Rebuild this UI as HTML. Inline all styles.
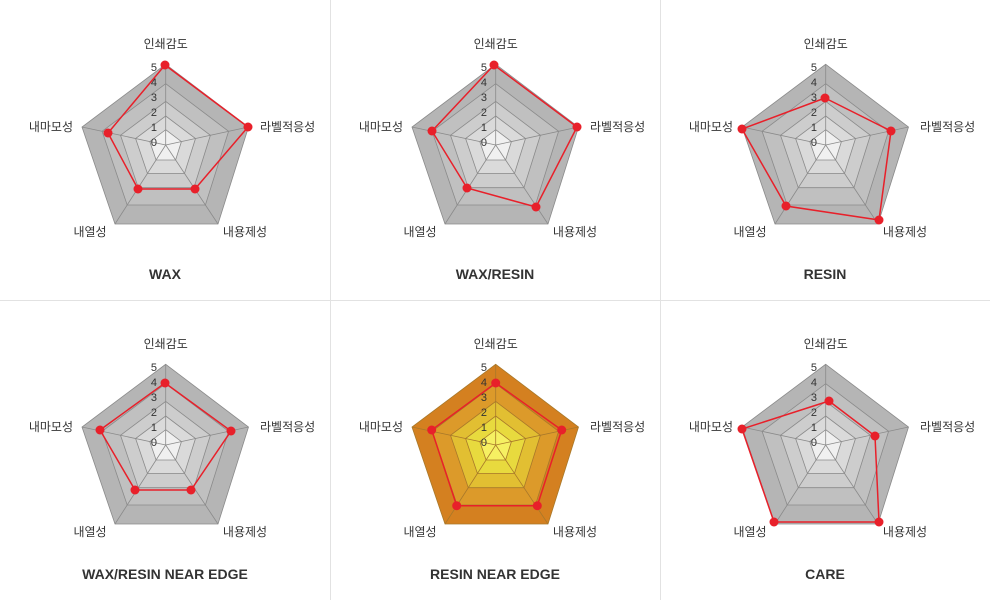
<!DOCTYPE html>
<html><head><meta charset="utf-8"><style>
html,body{margin:0;padding:0;background:#fff;}
svg{display:block;font-family:"Liberation Sans","Noto Sans CJK KR",sans-serif;}
.l{font-size:12px;fill:#333;}
.t{font-size:11px;fill:#333;}
.h{font-size:14px;font-weight:bold;fill:#333;text-anchor:middle;}
</style></head><body>
<svg width="990" height="600" viewBox="0 0 990 600">
<defs>
<g id="gray" stroke="#8a8a8a" stroke-width="0.8">
<polygon fill="#b5b5b5" points="165.7,64.3 248.5,127 218,224 115,224 82,127"/>
<polygon fill="#c0c0c0" points="165.7,83.7 228.6,131.3 205.4,205 127.2,205 102.1,131.3"/>
<polygon fill="#cdcdcd" points="165.7,101.4 210.4,135.3 193.9,187.7 138.3,187.7 120.5,135.3"/>
<polygon fill="#dadada" points="165.7,116 195.5,138.5 184.5,173.4 147.4,173.4 135.6,138.5"/>
<polygon fill="#f0f0f0" points="165.7,129.7 181.4,141.6 175.6,160 156.1,160 149.8,141.6"/>
<path fill="none" d="M165.7,145L165.7,64.3M165.7,145L248.5,127M165.7,145L218,224M165.7,145L115,224M165.7,145L82,127"/>
</g>
<g id="orange" stroke="#a8782a" stroke-width="0.8">
<polygon fill="#d48020" points="165.7,64.3 248.5,127 218,224 115,224 82,127"/>
<polygon fill="#dc9a2a" points="165.7,83.7 228.6,131.3 205.4,205 127.2,205 102.1,131.3"/>
<polygon fill="#e2bf32" points="165.7,101.4 210.4,135.3 193.9,187.7 138.3,187.7 120.5,135.3"/>
<polygon fill="#e8da3e" points="165.7,116 195.5,138.5 184.5,173.4 147.4,173.4 135.6,138.5"/>
<polygon fill="#f6f062" points="165.7,129.7 181.4,141.6 175.6,160 156.1,160 149.8,141.6"/>
<path fill="none" d="M165.7,145L165.7,64.3M165.7,145L248.5,127M165.7,145L218,224M165.7,145L115,224M165.7,145L82,127"/>
</g>
</defs>
<path d="M330.5,0V600M660.5,0V600M0,300.5H990" stroke="#e2e2e2" stroke-width="1"/>

<g transform="translate(0,0)">
<use href="#gray"/>
<polygon fill="none" stroke="#e8202a" stroke-width="1.5" points="165,65 248,127 195,189 138,189 108,133"/>
<g fill="#e8202a"><circle cx="165" cy="65" r="4.5"/><circle cx="248" cy="127" r="4.5"/><circle cx="195" cy="189" r="4.5"/><circle cx="138" cy="189" r="4.5"/><circle cx="108" cy="133" r="4.5"/></g>
<g class="t" text-anchor="end"><text x="157" y="71">5</text><text x="157" y="86">4</text><text x="157" y="101">3</text><text x="157" y="116">2</text><text x="157" y="131">1</text><text x="157" y="146">0</text></g>
<text class="l" x="165.7" y="48" text-anchor="middle">인쇄감도</text><text class="l" x="260" y="131">라벨적응성</text><text class="l" x="245" y="236" text-anchor="middle">내용제성</text><text class="l" x="90" y="236" text-anchor="middle">내열성</text><text class="l" x="73" y="131" text-anchor="end">내마모성</text>
<text class="h" x="165" y="279">WAX</text>
</g>

<g transform="translate(330,0)">
<use href="#gray"/>
<polygon fill="none" stroke="#e8202a" stroke-width="1.5" points="164,65 247,127 206,207 137,188 102,131"/>
<g fill="#e8202a"><circle cx="164" cy="65" r="4.5"/><circle cx="247" cy="127" r="4.5"/><circle cx="206" cy="207" r="4.5"/><circle cx="137" cy="188" r="4.5"/><circle cx="102" cy="131" r="4.5"/></g>
<g class="t" text-anchor="end"><text x="157" y="71">5</text><text x="157" y="86">4</text><text x="157" y="101">3</text><text x="157" y="116">2</text><text x="157" y="131">1</text><text x="157" y="146">0</text></g>
<text class="l" x="165.7" y="48" text-anchor="middle">인쇄감도</text><text class="l" x="260" y="131">라벨적응성</text><text class="l" x="245" y="236" text-anchor="middle">내용제성</text><text class="l" x="90" y="236" text-anchor="middle">내열성</text><text class="l" x="73" y="131" text-anchor="end">내마모성</text>
<text class="h" x="165" y="279">WAX/RESIN</text>
</g>

<g transform="translate(660,0)">
<use href="#gray"/>
<polygon fill="none" stroke="#e8202a" stroke-width="1.5" points="165,98 231,131 219,220 126,206 82,129"/>
<g fill="#e8202a"><circle cx="165" cy="98" r="4.5"/><circle cx="231" cy="131" r="4.5"/><circle cx="219" cy="220" r="4.5"/><circle cx="126" cy="206" r="4.5"/><circle cx="82" cy="129" r="4.5"/></g>
<g class="t" text-anchor="end"><text x="157" y="71">5</text><text x="157" y="86">4</text><text x="157" y="101">3</text><text x="157" y="116">2</text><text x="157" y="131">1</text><text x="157" y="146">0</text></g>
<text class="l" x="165.7" y="48" text-anchor="middle">인쇄감도</text><text class="l" x="260" y="131">라벨적응성</text><text class="l" x="245" y="236" text-anchor="middle">내용제성</text><text class="l" x="90" y="236" text-anchor="middle">내열성</text><text class="l" x="73" y="131" text-anchor="end">내마모성</text>
<text class="h" x="165" y="279">RESIN</text>
</g>

<g transform="translate(0,300)">
<use href="#gray"/>
<polygon fill="none" stroke="#e8202a" stroke-width="1.5" points="165,83 231,131 191,190 135,190 100,130"/>
<g fill="#e8202a"><circle cx="165" cy="83" r="4.5"/><circle cx="231" cy="131" r="4.5"/><circle cx="191" cy="190" r="4.5"/><circle cx="135" cy="190" r="4.5"/><circle cx="100" cy="130" r="4.5"/></g>
<g class="t" text-anchor="end"><text x="157" y="71">5</text><text x="157" y="86">4</text><text x="157" y="101">3</text><text x="157" y="116">2</text><text x="157" y="131">1</text><text x="157" y="146">0</text></g>
<text class="l" x="165.7" y="48" text-anchor="middle">인쇄감도</text><text class="l" x="260" y="131">라벨적응성</text><text class="l" x="245" y="236" text-anchor="middle">내용제성</text><text class="l" x="90" y="236" text-anchor="middle">내열성</text><text class="l" x="73" y="131" text-anchor="end">내마모성</text>
<text class="h" x="165" y="279">WAX/RESIN NEAR EDGE</text>
</g>

<g transform="translate(330,300)">
<use href="#orange"/>
<polygon fill="none" stroke="#e8202a" stroke-width="1.5" points="165.7,83 231.7,130 207.3,205.7 126.7,205.7 101.7,130"/>
<g fill="#e8202a"><circle cx="165.7" cy="83" r="4.5"/><circle cx="231.7" cy="130" r="4.5"/><circle cx="207.3" cy="205.7" r="4.5"/><circle cx="126.7" cy="205.7" r="4.5"/><circle cx="101.7" cy="130" r="4.5"/></g>
<g class="t" text-anchor="end"><text x="157" y="71">5</text><text x="157" y="86">4</text><text x="157" y="101">3</text><text x="157" y="116">2</text><text x="157" y="131">1</text><text x="157" y="146">0</text></g>
<text class="l" x="165.7" y="48" text-anchor="middle">인쇄감도</text><text class="l" x="260" y="131">라벨적응성</text><text class="l" x="245" y="236" text-anchor="middle">내용제성</text><text class="l" x="90" y="236" text-anchor="middle">내열성</text><text class="l" x="73" y="131" text-anchor="end">내마모성</text>
<text class="h" x="165" y="279">RESIN NEAR EDGE</text>
</g>

<g transform="translate(660,300)">
<use href="#gray"/>
<polygon fill="none" stroke="#e8202a" stroke-width="1.5" points="169,101 215,136 219,222 114,222 82,129"/>
<g fill="#e8202a"><circle cx="169" cy="101" r="4.5"/><circle cx="215" cy="136" r="4.5"/><circle cx="219" cy="222" r="4.5"/><circle cx="114" cy="222" r="4.5"/><circle cx="82" cy="129" r="4.5"/></g>
<g class="t" text-anchor="end"><text x="157" y="71">5</text><text x="157" y="86">4</text><text x="157" y="101">3</text><text x="157" y="116">2</text><text x="157" y="131">1</text><text x="157" y="146">0</text></g>
<text class="l" x="165.7" y="48" text-anchor="middle">인쇄감도</text><text class="l" x="260" y="131">라벨적응성</text><text class="l" x="245" y="236" text-anchor="middle">내용제성</text><text class="l" x="90" y="236" text-anchor="middle">내열성</text><text class="l" x="73" y="131" text-anchor="end">내마모성</text>
<text class="h" x="165" y="279">CARE</text>
</g>
</svg>
</body></html>
